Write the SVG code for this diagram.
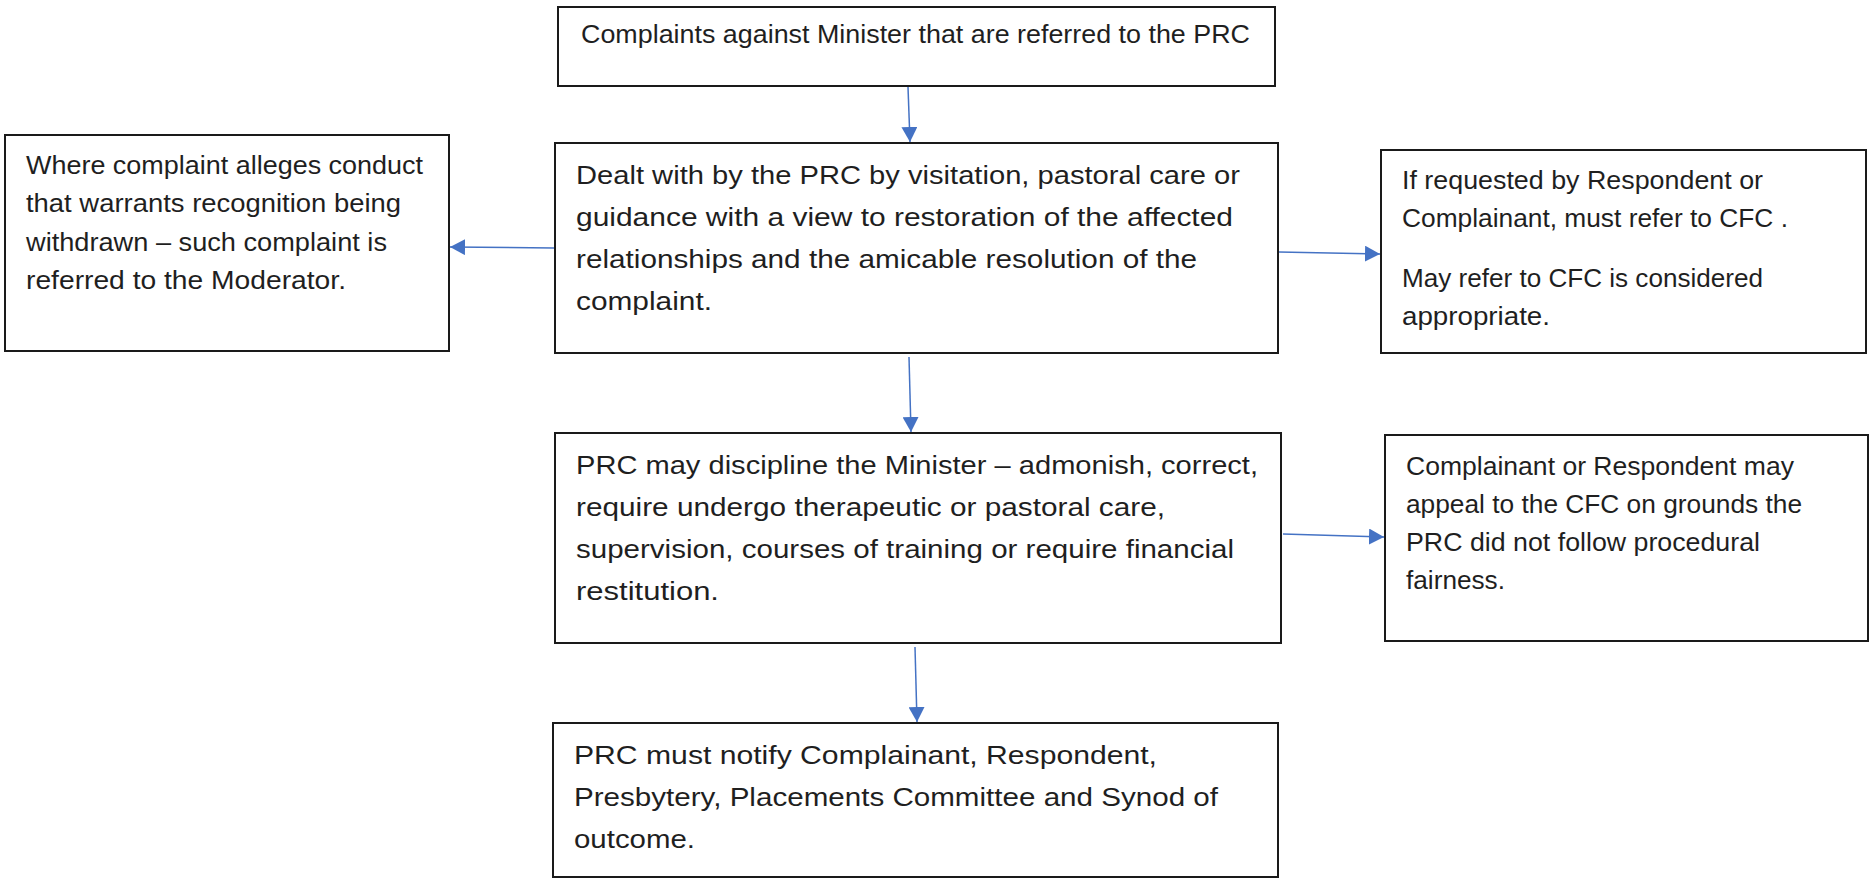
<svg xmlns="http://www.w3.org/2000/svg" width="1871" height="882" viewBox="0 0 1871 882">
<style>
.box{fill:#fff;stroke:#1a1a1a;stroke-width:2}
.t{font-family:"Liberation Sans",Arial,sans-serif;font-size:25px;fill:#1f1f1f}
.c{stroke:#4472C4;stroke-width:1.5;fill:none;marker-end:url(#ah)}
</style>
<defs>
<marker id="ah" markerUnits="userSpaceOnUse" markerWidth="16" markerHeight="16" refX="15" refY="8" orient="auto">
<path d="M0,0 L15,8 L0,16 z" fill="#4472C4"/>
</marker>
</defs>
<rect width="1871" height="882" fill="#fff"/>
<g id="connectors">
<line class="c" x1="908" y1="87" x2="910" y2="142"/>
<line class="c" x1="554" y1="248" x2="450" y2="247"/>
<line class="c" x1="1279" y1="252" x2="1380" y2="254"/>
<line class="c" x1="909" y1="357" x2="911" y2="432"/>
<line class="c" x1="1283" y1="534" x2="1384" y2="537"/>
<line class="c" x1="915" y1="647" x2="917" y2="722"/>
</g>
<g id="node-top">
<rect class="box" x="558" y="7" width="717" height="79"/>
<text class="t" x="581" y="43" textLength="669" lengthAdjust="spacingAndGlyphs">Complaints against Minister that are referred to the PRC</text>
</g>
<g id="node-left">
<rect class="box" x="5" y="135" width="444" height="216"/>
<text class="t" x="26" y="174" textLength="397" lengthAdjust="spacingAndGlyphs">Where complaint alleges conduct</text>
<text class="t" x="26" y="212" textLength="375" lengthAdjust="spacingAndGlyphs">that warrants recognition being</text>
<text class="t" x="26" y="251" textLength="361" lengthAdjust="spacingAndGlyphs">withdrawn – such complaint is</text>
<text class="t" x="26" y="289" textLength="320" lengthAdjust="spacingAndGlyphs">referred to the Moderator.</text>
</g>
<g id="node-dealt">
<rect class="box" x="555" y="143" width="723" height="210"/>
<text class="t" x="576" y="184" textLength="664" lengthAdjust="spacingAndGlyphs">Dealt with by the PRC by visitation, pastoral care or</text>
<text class="t" x="576" y="226" textLength="657" lengthAdjust="spacingAndGlyphs">guidance with a view to restoration of the affected</text>
<text class="t" x="576" y="268" textLength="621" lengthAdjust="spacingAndGlyphs">relationships and the amicable resolution of the</text>
<text class="t" x="576" y="310" textLength="136" lengthAdjust="spacingAndGlyphs">complaint.</text>
</g>
<g id="node-refer">
<rect class="box" x="1381" y="150" width="485" height="203"/>
<text class="t" x="1402" y="189" textLength="361" lengthAdjust="spacingAndGlyphs">If requested by Respondent or</text>
<text class="t" x="1402" y="227" textLength="386" lengthAdjust="spacingAndGlyphs">Complainant, must refer to CFC .</text>
<text class="t" x="1402" y="287" textLength="361" lengthAdjust="spacingAndGlyphs">May refer to CFC is considered</text>
<text class="t" x="1402" y="325" textLength="148" lengthAdjust="spacingAndGlyphs">appropriate.</text>
</g>
<g id="node-discipline">
<rect class="box" x="555" y="433" width="726" height="210"/>
<text class="t" x="576" y="474" textLength="682" lengthAdjust="spacingAndGlyphs">PRC may discipline the Minister – admonish, correct,</text>
<text class="t" x="576" y="516" textLength="589" lengthAdjust="spacingAndGlyphs">require undergo therapeutic or pastoral care,</text>
<text class="t" x="576" y="558" textLength="658" lengthAdjust="spacingAndGlyphs">supervision, courses of training or require financial</text>
<text class="t" x="576" y="600" textLength="143" lengthAdjust="spacingAndGlyphs">restitution.</text>
</g>
<g id="node-appeal">
<rect class="box" x="1385" y="435" width="483" height="206"/>
<text class="t" x="1406" y="475" textLength="388" lengthAdjust="spacingAndGlyphs">Complainant or Respondent may</text>
<text class="t" x="1406" y="513" textLength="396" lengthAdjust="spacingAndGlyphs">appeal to the CFC on grounds the</text>
<text class="t" x="1406" y="551" textLength="354" lengthAdjust="spacingAndGlyphs">PRC did not follow procedural</text>
<text class="t" x="1406" y="589" textLength="99" lengthAdjust="spacingAndGlyphs">fairness.</text>
</g>
<g id="node-notify">
<rect class="box" x="553" y="723" width="725" height="154"/>
<text class="t" x="574" y="764" textLength="583" lengthAdjust="spacingAndGlyphs">PRC must notify Complainant, Respondent,</text>
<text class="t" x="574" y="806" textLength="644" lengthAdjust="spacingAndGlyphs">Presbytery, Placements Committee and Synod of</text>
<text class="t" x="574" y="848" textLength="121" lengthAdjust="spacingAndGlyphs">outcome.</text>
</g>
</svg>
